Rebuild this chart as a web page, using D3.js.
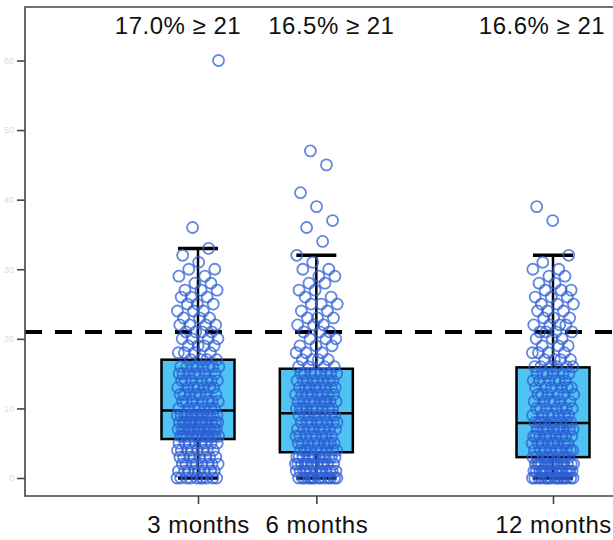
<!DOCTYPE html>
<html>
<head>
<meta charset="utf-8">
<script src="https://cdn.jsdelivr.net/npm/d3@7"></script>
<style>
  html, body { margin: 0; padding: 0; background: #fff; }
  svg { display: block; }
  text { font-family: "Liberation Sans", Arial, Helvetica, sans-serif; }
</style>
</head>
<body>
<svg id="chart" width="613" height="540"></svg>
<script>
// ---- data ----
const months = [3, 6, 12];
const monthLabels = ["3 months", "6 months", "12 months"];
const threshold = 21;
const yTicks = [0, 10, 20, 30, 40, 50, 60];

// score -> number of participants, per time point
const counts3 = [[0,10],[1,8],[2,8],[3,8],[4,8],[5,8],[6,12],[7,13],[8,12],[9,13],
  [10,7],[11,7],[12,7],[13,7],[14,7],[15,7],[16,8],[17,4],[18,4],[19,4],[20,4],
  [21,4],[22,4],[23,3],[24,3],[25,3],[26,3],[27,3],[28,2],[29,2],[30,2],[31,1],[32,1],[33,1],[36,1],[60,1]];
const counts6 = [[0,14],[1,12],[2,12],[3,12],[4,9],[5,9],[6,8],[7,8],[8,8],[9,8],
  [10,9],[11,9],[12,8],[13,8],[14,8],[15,8],[16,4],[17,4],[18,3],[19,3],[20,3],
  [21,3],[22,3],[23,3],[24,2],[25,3],[26,2],[27,2],[28,2],[29,2],[30,2],[31,1],[32,1],
  [34,1],[36,1],[37,1],[39,1],[41,1],[45,1],[47,1]];
const counts12 = [[0,17],[1,15],[2,15],[3,10],[4,9],[5,9],[6,9],[7,9],[8,9],
  [9,7],[10,7],[11,6],[12,6],[13,6],[14,6],[15,6],[16,6],[17,4],[18,4],[19,3],[20,3],
  [21,4],[22,4],[23,3],[24,3],[25,3],[26,3],[27,3],[28,2],[29,2],[30,2],[31,1],[32,1],[37,1],[39,1]];

// box statistics
const q1 = [5.6, 3.7, 3.0];
const medians = [9.7, 9.3, 7.9];
const q3 = [17.0, 15.7, 15.9];
const whiskerLow = [0, 0, 0];
const whiskerHigh = [33, 32, 32];

// ---- drawing ----
const groups = [counts3, counts6, counts12];
const svg = d3.select("#chart");

const x = d3.scaleLinear().domain([3, 12]).range([198, 553]);
const y = d3.scaleLinear().domain([0, 60]).range([478, 60.5]);

const frameL = 25, frameT = 7, frameB = 496, frameR = 640;
const boxHalf = 36.5, capHalf = 20, jitterHalf = 21, r = 5.5;

// threshold dashed line
svg.append("line")
  .attr("x1", frameL).attr("x2", frameR)
  .attr("y1", y(threshold)).attr("y2", y(threshold))
  .attr("stroke", "#000").attr("stroke-width", 4)
  .attr("stroke-dasharray", "17,13");

// boxes
months.forEach((m, i) => {
  const cx = x(m);
  const g = svg.append("g");
  g.append("line").attr("x1", cx).attr("x2", cx)
    .attr("y1", y(whiskerLow[i])).attr("y2", y(q1[i]))
    .attr("stroke", "#000").attr("stroke-width", 2.5);
  g.append("line").attr("x1", cx).attr("x2", cx)
    .attr("y1", y(q3[i])).attr("y2", y(whiskerHigh[i]))
    .attr("stroke", "#000").attr("stroke-width", 2.5);
  [whiskerLow[i], whiskerHigh[i]].forEach(v => {
    g.append("line").attr("x1", cx - capHalf).attr("x2", cx + capHalf)
      .attr("y1", y(v)).attr("y2", y(v))
      .attr("stroke", "#000").attr("stroke-width", 3.5);
  });
  g.append("rect")
    .attr("x", cx - boxHalf).attr("width", boxHalf * 2)
    .attr("y", y(q3[i])).attr("height", y(q1[i]) - y(q3[i]))
    .attr("fill", "#4fc3f1").attr("stroke", "#000").attr("stroke-width", 2.5);
  g.append("line").attr("x1", cx - boxHalf).attr("x2", cx + boxHalf)
    .attr("y1", y(medians[i])).attr("y2", y(medians[i]))
    .attr("stroke", "#000").attr("stroke-width", 2.5);
});

// jittered points
const phi = 0.6180339887;
months.forEach((m, i) => {
  const pts = [];
  let k = 0;
  groups[i].forEach(([score, n]) => {
    for (let j = 0; j < n; j++) {
      const f = ((k * phi + i * 0.37) % 1);
      pts.push({ score, off: (f - 0.5) * 2 * jitterHalf });
      k++;
    }
  });
  svg.append("g").selectAll("circle").data(pts).join("circle")
    .attr("cx", d => x(m) + d.off)
    .attr("cy", d => y(d.score))
    .attr("r", r)
    .attr("fill", "none")
    .attr("stroke", "#2d5fd4")
    .attr("stroke-opacity", 0.75)
    .attr("stroke-width", 1.8);
});

// frame
svg.append("path")
  .attr("d", `M${frameR},${frameT}H${frameL}V${frameB}H${frameR}`)
  .attr("fill", "none").attr("stroke", "#444").attr("stroke-width", 1.6);

// y axis (labels are only faintly visible at the cropped left edge)
const yAxis = svg.append("g").attr("transform", `translate(${frameL},0)`)
  .call(d3.axisLeft(y).tickValues(yTicks).tickSize(8).tickPadding(3));
yAxis.select(".domain").remove();
yAxis.selectAll("line").attr("stroke", "#444").attr("stroke-width", 1.6);
yAxis.selectAll("text").attr("font-size", 9).attr("fill", "#dcdcdc")
  .attr("font-family", "Liberation Sans, Arial, sans-serif");

// x axis
const xAxis = svg.append("g").attr("transform", `translate(0,${frameB})`)
  .call(d3.axisBottom(x).tickValues(months).tickSize(8).tickPadding(12)
    .tickFormat((d, i) => monthLabels[i]));
xAxis.select(".domain").remove();
xAxis.selectAll("line").attr("stroke", "#444").attr("stroke-width", 1.6);
xAxis.selectAll("text").attr("font-size", 24).attr("fill", "#111")
  .attr("letter-spacing", 0.5)
  .attr("font-family", "Liberation Sans, Arial, sans-serif");

// percentage labels
const labelDx = [-20, 15, -11];
months.forEach((m, i) => {
  const total = d3.sum(groups[i], d => d[1]);
  const above = d3.sum(groups[i].filter(d => d[0] >= threshold), d => d[1]);
  svg.append("text")
    .attr("x", x(m) + labelDx[i]).attr("y", 34)
    .attr("text-anchor", "middle")
    .attr("font-size", 24).attr("fill", "#111").attr("letter-spacing", 0.5)
    .text(`${(above / total * 100).toFixed(1)}% \u2265 ${threshold}`);
});
</script>
</body>
</html>
